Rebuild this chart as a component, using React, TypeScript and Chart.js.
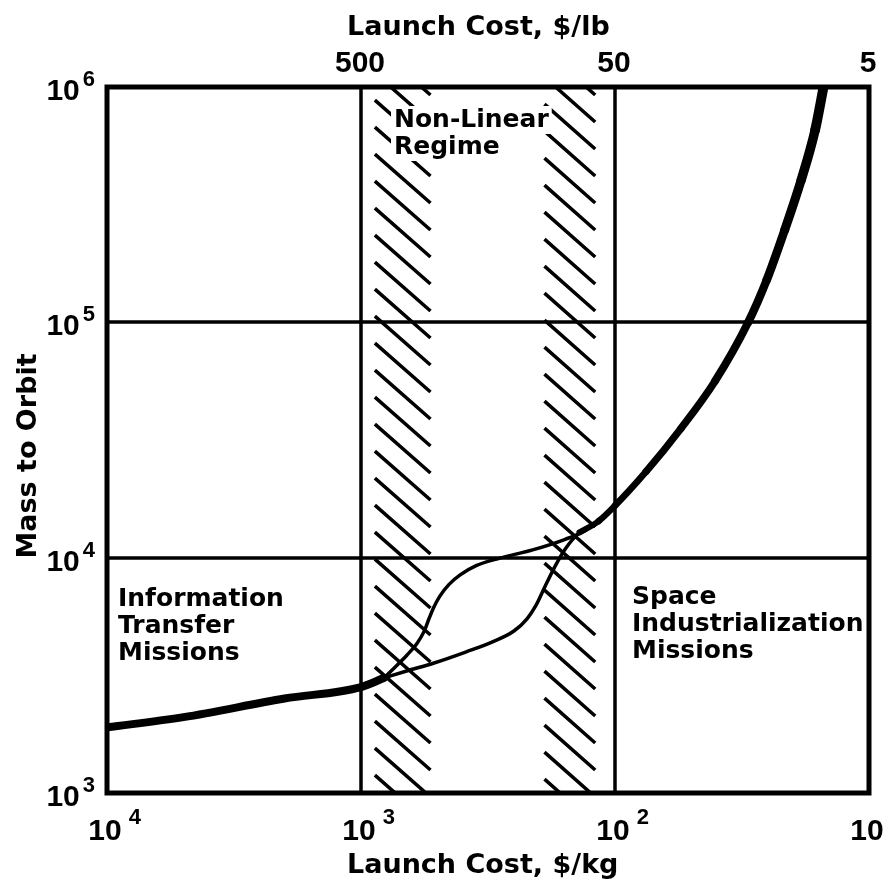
import React, { useEffect, useRef } from 'react';
import { Chart, registerables } from 'chart.js';
Chart.register(...registerables);

// Launch cost in $/kg (x) vs mass to orbit (y)
const infoCostKg = [10000, 5000, 2000, 1000, 813];
const infoMass = [1900, 2100, 2520, 2820, 3080];

const upperBranchCostKg = [813, 740, 660, 604, 565, 540, 519, 490, 450, 407, 352, 284, 211, 157, 131, 116];
const upperBranchMass = [3080, 3400, 3850, 4300, 4850, 5500, 6100, 6850, 7700, 8450, 9250, 9950, 10790, 11970, 13020, 14300];

const lowerBranchCostKg = [813, 661, 519, 385, 302, 250, 222, 205, 188, 171, 157, 138, 123];
const lowerBranchMass = [3080, 3300, 3560, 3980, 4400, 4880, 5500, 6250, 7600, 9320, 10890, 12790, 13800];

const industryCostKg = [138, 116, 100, 75.5, 55, 40.4, 29.9, 25.3, 21.5, 18.5, 16.3, 15.1];
const industryMass = [12800, 14300, 16640, 23200, 35400, 56200, 100000, 151000, 246000, 402000, 656000, 1000000];

// Non-linear regime hatched bands ($/kg)
const bandStartKg = [898, 193];
const bandEndKg = [523, 117.5];

// Grid and ticks
const costGridKg = [1000, 100];
const massGrid = [10000, 100000];
const costTicksKg = [10000, 1000, 100, 10];
const massTicks = [1000, 10000, 100000, 1000000];
const lbTickLabels = ['500', '50', '5'];
const lbTickAtKg = [1000, 100, 10];

const topTitle = 'Launch Cost, $/lb';
const bottomTitle = 'Launch Cost, $/kg';
const yTitle = 'Mass to Orbit';
const nonLinearText = ['Non-Linear', 'Regime'];
const infoText = ['Information', 'Transfer', 'Missions'];
const industryText = ['Space', 'Industrialization', 'Missions'];

const zip = (xs: number[], ys: number[]) => xs.map((x, i) => ({ x, y: ys[i] }));

const TICK_FONT = 'bold 30px "Liberation Sans", Arial, sans-serif';
const SUP_FONT = 'bold 22px "Liberation Sans", Arial, sans-serif';
const TITLE_FONT = 'bold 27px "DejaVu Sans", sans-serif';
const NOTE_FONT = 'bold 25px "DejaVu Sans", sans-serif';

const decor = {
  id: 'decor',
  beforeDatasetsDraw(chart: any) {
    const { ctx, chartArea: a, scales } = chart;
    const xs = scales.x, ys = scales.y;
    ctx.save();
    ctx.strokeStyle = '#000';
    // hatching
    ctx.lineWidth = 3.5;
    ctx.lineCap = 'butt';
    bandStartKg.forEach((s, i) => {
      const p0 = xs.getPixelForValue(s), p1 = xs.getPixelForValue(bandEndKg[i]);
      const l = Math.min(p0, p1), r = Math.max(p0, p1);
      const w = r - l;
      const drop = w * 0.82;
      ctx.save();
      ctx.beginPath();
      ctx.rect(l, a.top, w, a.bottom - a.top);
      ctx.clip();
      ctx.beginPath();
      for (let yy = a.top - drop + 8; yy < a.bottom + 4; yy += 27) {
        ctx.moveTo(l + 2, yy);
        ctx.lineTo(r - 2, yy + drop);
      }
      ctx.stroke();
      ctx.restore();
    });
    // grid lines
    ctx.lineWidth = 3.5;
    ctx.beginPath();
    costGridKg.forEach((v) => {
      const px = Math.round(xs.getPixelForValue(v));
      ctx.moveTo(px, a.top);
      ctx.lineTo(px, a.bottom);
    });
    massGrid.forEach((v) => {
      const py = Math.round(ys.getPixelForValue(v));
      ctx.moveTo(a.left, py);
      ctx.lineTo(a.right, py);
    });
    ctx.stroke();
    // frame
    ctx.lineWidth = 5;
    ctx.strokeRect(a.left, a.top, a.right - a.left, a.bottom - a.top);
    ctx.restore();
  },
  afterDraw(chart: any) {
    const { ctx, chartArea: a, scales } = chart;
    const xs = scales.x, ys = scales.y;
    ctx.save();
    ctx.fillStyle = '#000';
    ctx.textBaseline = 'alphabetic';

    const powLabel = (v: number) => {
      const e = Math.round(Math.log10(v));
      return e === 1 ? { base: '10', sup: '' } : { base: '10', sup: String(e) };
    };

    // bottom ticks
    costTicksKg.forEach((v) => {
      const px = xs.getPixelForValue(v);
      const { base, sup } = powLabel(v);
      ctx.font = TICK_FONT;
      const bw = ctx.measureText(base).width;
      const left = px - 2 - bw / 2;
      ctx.textAlign = 'left';
      ctx.fillText(base, left, a.bottom + 47);
      if (sup) {
        ctx.font = SUP_FONT;
        ctx.fillText(sup, left + bw + 7, a.bottom + 31);
      }
    });
    // left ticks
    massTicks.forEach((v) => {
      const py = ys.getPixelForValue(v);
      const { base, sup } = powLabel(v);
      ctx.font = SUP_FONT;
      const sw = ctx.measureText(sup).width;
      const supLeft = a.left - 12 - sw;
      ctx.textAlign = 'left';
      ctx.fillText(sup, supLeft, py - 1);
      ctx.font = TICK_FONT;
      ctx.textAlign = 'right';
      ctx.fillText(base, supLeft - 3, py + 13);
    });
    // top ticks ($/lb)
    ctx.font = TICK_FONT;
    ctx.textAlign = 'center';
    lbTickLabels.forEach((t, i) => {
      const px = xs.getPixelForValue(lbTickAtKg[i]);
      ctx.fillText(t, px - 1, a.top - 15);
    });

    // titles
    ctx.font = TITLE_FONT;
    ctx.textAlign = 'left';
    ctx.fillText(topTitle, 347, 35);
    ctx.fillText(bottomTitle, 347, 873);
    ctx.save();
    ctx.translate(36, 456);
    ctx.rotate(-Math.PI / 2);
    ctx.textAlign = 'center';
    ctx.fillText(yTitle, 0, 0);
    ctx.restore();

    // annotations
    ctx.font = NOTE_FONT;
    ctx.textAlign = 'left';
    const block = (lines: string[], x0: number, y0: number, lh: number, knockout: boolean) => {
      lines.forEach((t, i) => {
        const yb = y0 + i * lh;
        if (knockout) {
          const w = ctx.measureText(t).width;
          ctx.fillStyle = '#fff';
          ctx.fillRect(x0 - 3, yb - 21, w + 6, 28);
          ctx.fillStyle = '#000';
        }
        ctx.fillText(t, x0, yb);
      });
    };
    block(nonLinearText, 394, 127, 27, true);
    block(infoText, 118, 606, 27, false);
    block(industryText, 632, 604, 27, false);
    ctx.restore();
  },
};

export default function App() {
  const ref = useRef<HTMLCanvasElement>(null);
  useEffect(() => {
    const common = {
      showLine: true,
      borderColor: '#000',
      backgroundColor: '#000',
      pointRadius: 0,
      cubicInterpolationMode: 'monotone',
      borderCapStyle: 'round',
      borderJoinStyle: 'round',
    };
    const chart = new Chart(ref.current as HTMLCanvasElement, {
      type: 'scatter',
      data: {
        datasets: [
          { ...common, label: 'Information transfer', data: zip(infoCostKg, infoMass), borderWidth: 8 },
          { ...common, label: 'Upper branch', data: zip(upperBranchCostKg, upperBranchMass), borderWidth: 3.5 },
          { ...common, label: 'Lower branch', data: zip(lowerBranchCostKg, lowerBranchMass), borderWidth: 3.5 },
          {
            ...common,
            label: 'Space industrialization',
            data: zip(industryCostKg, industryMass),
            borderWidth: 7,
            segment: { borderWidth: (c: any) => 6 + c.p0DataIndex * 0.38 },
          },
        ] as any,
      },
      options: {
        responsive: true,
        maintainAspectRatio: false,
        animation: false,
        layout: { padding: { left: 107, right: 19, top: 87, bottom: 91 } },
        plugins: { legend: { display: false }, tooltip: { enabled: false } },
        scales: {
          x: { type: 'logarithmic', min: 10, max: 10000, reverse: true, display: false },
          y: { type: 'logarithmic', min: 1000, max: 1000000, display: false },
        },
      } as any,
      plugins: [decor],
    });
    return () => chart.destroy();
  }, []);
  return (
    <div style={{ position: 'absolute', left: 0, top: 0, width: 888, height: 884, background: '#fff' }}>
      <canvas ref={ref} />
    </div>
  );
}
